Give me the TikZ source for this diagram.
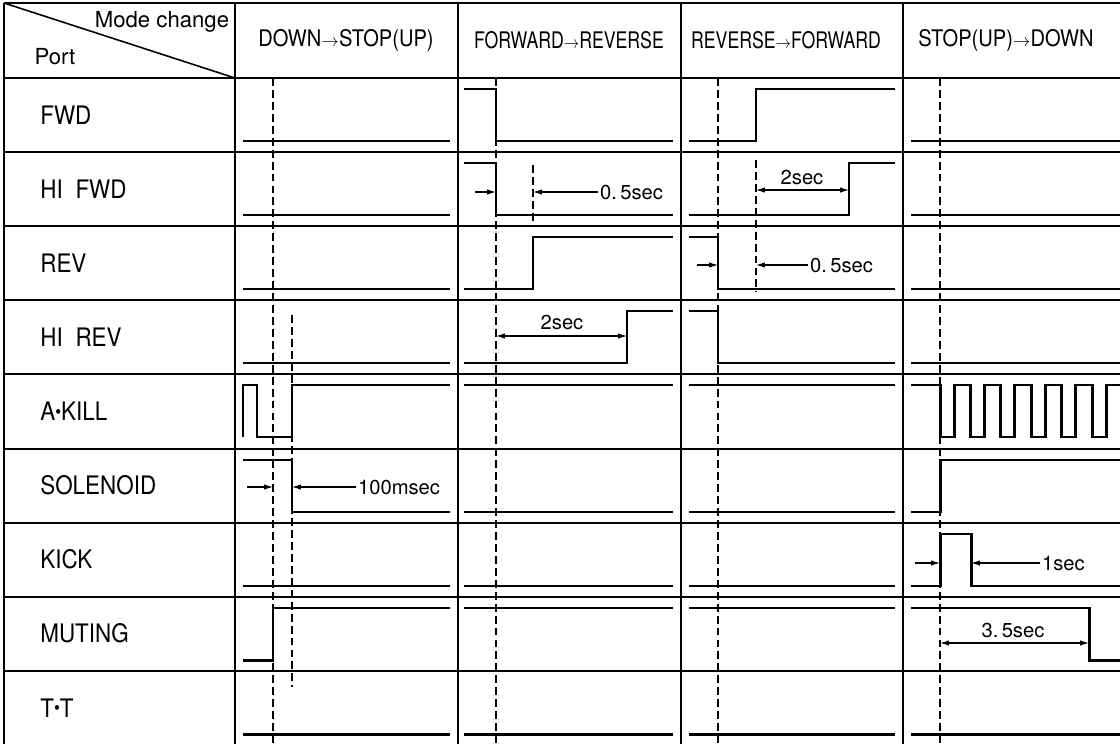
\documentclass[tikz,border=0pt]{standalone}
\usepackage{graphicx}
\usepackage{fontspec}
\setmainfont{TeX Gyre Heros}
\newfontfamily\narrowfont[FakeStretch=0.88]{TeX Gyre Heros}
\usepackage{tikz}
\usetikzlibrary{arrows.meta}
\newcommand{\pdot}{\raisebox{0.2ex}{\scalebox{0.75}{\textbullet}}}
\newcommand{\chgto}{{\fontsize{10}{10}\selectfont$\rightarrow$}}
\newcommand{\squeeze}[1]{\scalebox{0.88}[1]{#1}}

\begin{document}
\begin{tikzpicture}[x=0.02cm, y=-0.02cm,
        % --- TikZ Styles ---
        gridline/.style={line width=0.9pt},
        wave/.style={line width=1.7pt, line join=miter},
        markline/.style={line width=0.8pt, dash pattern=on 4.5pt off 2.3pt},
        dimline/.style={line width=0.6pt, -{Latex[length=5pt,width=3pt]}},
        dimboth/.style={line width=0.6pt, {Latex[length=5pt,width=3pt]}-{Latex[length=5pt,width=3pt]}},
        portlabel/.style={anchor=west, font=\narrowfont\fontsize{14.5}{16}\selectfont, inner sep=0pt},
        modelabel/.style={font=\narrowfont\fontsize{13}{15}\selectfont},
        timelabel/.style={font=\fontsize{11.5}{13}\selectfont, inner sep=1pt}
    ]
    \useasboundingbox (0,0) rectangle (1120,744);
    \clip (0,0) rectangle (1120,744);

    % --- 1. TABLE ---
    \draw[gridline] (4,3) -- (1125,3);
    \foreach \y in {78,152,226,300,374,449,523,597,671}
        \draw[gridline] (4,\y) -- (1125,\y);
    \foreach \x in {4,235,458,681,903}
        \draw[gridline] (\x,3) -- (\x,744);
    \draw[gridline] (4,3) -- (235,78);

    \node[font=\fontsize{12.6}{14}\selectfont] (mode) at (162,22) {Mode change};
    \node[font=\fontsize{12.6}{14}\selectfont] (port) at (55,57) {Port};

    \node[modelabel] (downstop) at (346,40) {DOWN\chgto STOP(UP)};
    \node[modelabel] (fwdrev) at (569,40) {\squeeze{FORWARD\chgto REVERSE}};
    \node[modelabel] (revfwd) at (786,40) {\squeeze{REVERSE\chgto FORWARD}};
    \node[modelabel] (stopdown) at (1006,40) {STOP(UP)\chgto DOWN};

    \foreach \lbl/\nm [count=\i] in {FWD/fwd, {HI\hspace{0.5em}FWD}/hifwd, REV/rev, {HI\hspace{0.5em}REV}/hirev,
            {A\pdot KILL}/akill, SOLENOID/solenoid, KICK/kick, MUTING/muting, {T\pdot T}/tt}
        \node[portlabel] (\nm) at (40,{78+74.1*(\i-1)+37}) {\lbl};

    % --- 2. MARKERS ---
    \draw[markline] (273,78) -- (273,744);
    \draw[markline] (292,315) -- (292,687);
    \draw[markline] (496,78) -- (496,744);
    \draw[markline] (533,165) -- (533,222);
    \draw[markline] (718,78) -- (718,744);
    \draw[markline] (756,160) -- (756,292);
    \draw[markline] (940,78) -- (940,744);

    % --- 3. WAVEFORMS ---
    % DOWN -> STOP(UP)
    \foreach \y in {141,215,289,363,586,734}
        \draw[wave] (243,\y) -- (450,\y);
    \draw[wave] (243,437) -- (243,385) -- (257,385) -- (257,437) -- (292,437) -- (292,385) -- (450,385);
    \draw[wave] (243,460) -- (292,460) -- (292,512) -- (450,512);
    \draw[wave] (243,660) -- (273,660) -- (273,608) -- (450,608);

    % FORWARD -> REVERSE
    \draw[wave] (464,89) -- (496,89) -- (496,141) -- (673,141);
    \draw[wave] (464,163) -- (496,163) -- (496,215) -- (673,215);
    \draw[wave] (464,289) -- (533,289) -- (533,237) -- (673,237);
    \draw[wave] (464,363) -- (627,363) -- (627,311) -- (673,311);
    \foreach \y in {385,512,586,608,734}
        \draw[wave] (464,\y) -- (673,\y);

    % REVERSE -> FORWARD
    \draw[wave] (689,141) -- (756,141) -- (756,89) -- (895,89);
    \draw[wave] (689,215) -- (849,215) -- (849,163) -- (895,163);
    \draw[wave] (689,237) -- (718,237) -- (718,289) -- (895,289);
    \draw[wave] (689,311) -- (718,311) -- (718,363) -- (895,363);
    \foreach \y in {385,512,586,608,734}
        \draw[wave] (689,\y) -- (895,\y);

    % STOP(UP) -> DOWN
    \foreach \y in {141,215,289,363,734}
        \draw[wave] (911,\y) -- (1130,\y);
    \draw[wave] (911,385) -- (940,385)
        \foreach \k in {1,...,6} { -- ++(0,52) -- ++(14,0) -- ++(0,-52) -- ++(16.4,0) };
    \draw[wave] (911,512) -- (940,512) -- (940,460) -- (1130,460);
    \draw[wave] (911,586) -- (940,586) -- (940,534) -- (971,534) -- (971,586) -- (1130,586);
    \draw[wave] (911,608) -- (1089,608) -- (1089,660) -- (1130,660);

    % --- 4. TIMINGS ---
    \node[timelabel, anchor=west] (t100ms) at (356,487) {100msec};
    \draw[dimline] (247,487) -- (273,487);
    \draw[dimline] (t100ms.west) -- (292,487);

    \node[timelabel, anchor=west] (t05a) at (598,192) {0.\,5sec};
    \draw[dimline] (475,192) -- (496,192);
    \draw[dimline] (t05a.west) -- (533,192);

    \node[timelabel] (t2a) at (562,322) {2sec};
    \draw[dimboth] (496,336) -- (627,336);

    \node[timelabel] (t2b) at (802,177) {2sec};
    \draw[dimboth] (756,190) -- (849,190);

    \node[timelabel, anchor=west] (t05b) at (808,265) {0.\,5sec};
    \draw[dimline] (697,265) -- (718,265);
    \draw[dimline] (t05b.west) -- (756,265);

    \node[timelabel, anchor=west] (t1s) at (1040,563) {1sec};
    \draw[dimline] (915,563) -- (940,563);
    \draw[dimline] (t1s.west) -- (971,563);

    \node[timelabel] (t35) at (1013,630) {3.\,5sec};
    \draw[dimboth] (940,643) -- (1089,643);

\end{tikzpicture}
\end{document}
